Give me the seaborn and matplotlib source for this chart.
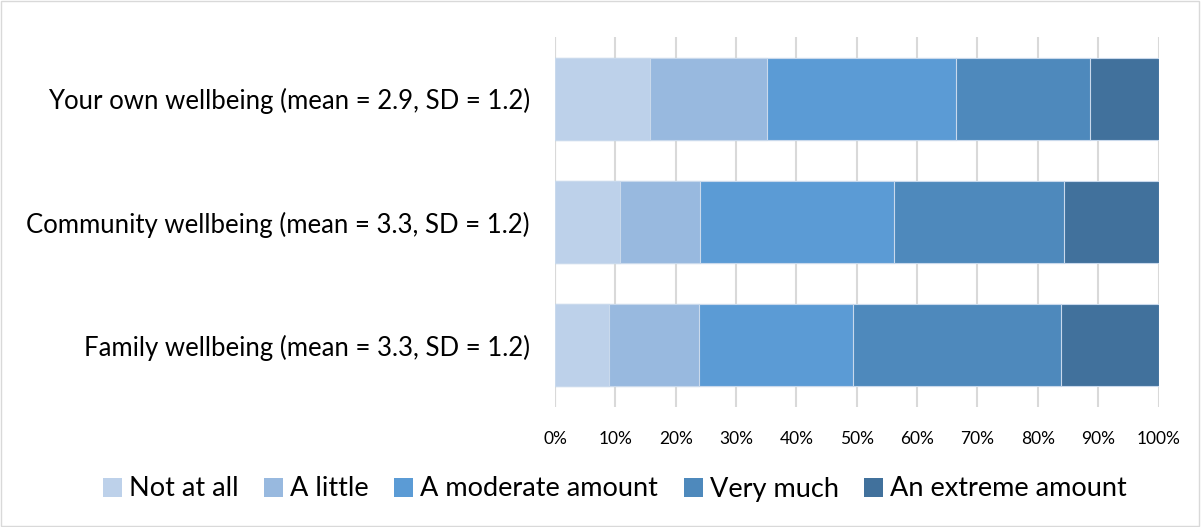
import numpy as np
import pandas as pd
import matplotlib
matplotlib.use("Agg")
import matplotlib.pyplot as plt
import seaborn as sns
from matplotlib.patches import Patch, Rectangle

categories = ["Your own wellbeing (mean = 2.9, SD = 1.2)",
              "Community wellbeing (mean = 3.3, SD = 1.2)",
              "Family wellbeing (mean = 3.3, SD = 1.2)"]
levels = ["Not at all", "A little", "A moderate amount", "Very much", "An extreme amount"]
not_at_all = [15.7, 10.7, 8.9]
a_little = [19.4, 13.4, 14.9]
moderate = [31.4, 32.0, 25.5]
very_much = [22.1, 28.3, 34.5]
extreme = [11.4, 15.6, 16.2]
colors = ["#BDD1EA", "#98B9DF", "#5B9BD5", "#4E89BC", "#41719C"]
tick_labels = [f"{v}%" for v in range(0, 101, 10)]

sns.set_theme(style="white")
plt.rcParams["font.family"] = ["Lato", "DejaVu Sans"]
plt.rcParams["text.color"] = "black"
plt.rcParams["xtick.color"] = "black"
plt.rcParams["ytick.color"] = "black"

series = [not_at_all, a_little, moderate, very_much, extreme]
cum = np.zeros(len(categories))
cums = []
for s in series:
    cum = cum + np.array(s)
    cums.append(cum.copy())

fig = plt.figure(figsize=(12.01, 5.27), dpi=100)
ax = fig.add_axes([555 / 1201, 1 - 407 / 527, (1158.5 - 555) / 1201, (407 - 37) / 527])

for i in range(len(series) - 1, -1, -1):
    d = pd.DataFrame({"category": categories, "value": cums[i]})
    sns.barplot(data=d, y="category", x="value", orient="h", color=colors[i],
                width=0.667, saturation=1, edgecolor="#C9D9EC", linewidth=0.8,
                ax=ax, zorder=3)

ax.set_xlim(0, 100)
ax.set_xticks(range(0, 101, 10))
ax.set_xticklabels(tick_labels, fontsize=12.5)
ax.xaxis.grid(True, color="#D9D9D9", linewidth=1.5, zorder=0)
ax.set_axisbelow(True)
ax.set_xlabel("")
ax.set_ylabel("")
ax.tick_params(axis="y", labelsize=18.5, pad=18, length=0, labelcolor="black")
ax.tick_params(axis="x", pad=17, length=0, labelcolor="black")
for sp in ax.spines.values():
    sp.set_visible(False)
ax.axvline(0, color="#D9D9D9", linewidth=1.5, zorder=0)

handles = [Patch(facecolor=c, edgecolor="none", label=l) for c, l in zip(colors, levels)]
fig.legend(handles=handles, loc="center", bbox_to_anchor=(615 / 1201, 1 - 489 / 527),
           ncol=5, frameon=False, fontsize=19.5, handlelength=0.7, handleheight=0.7,
           handletextpad=0.25, columnspacing=0.95)

fig.patches.append(Rectangle((0.001, 0.002), 0.997, 0.996, transform=fig.transFigure,
                             fill=False, edgecolor="#D9D9D9", linewidth=1))

fig.savefig("out.png", dpi=100)
